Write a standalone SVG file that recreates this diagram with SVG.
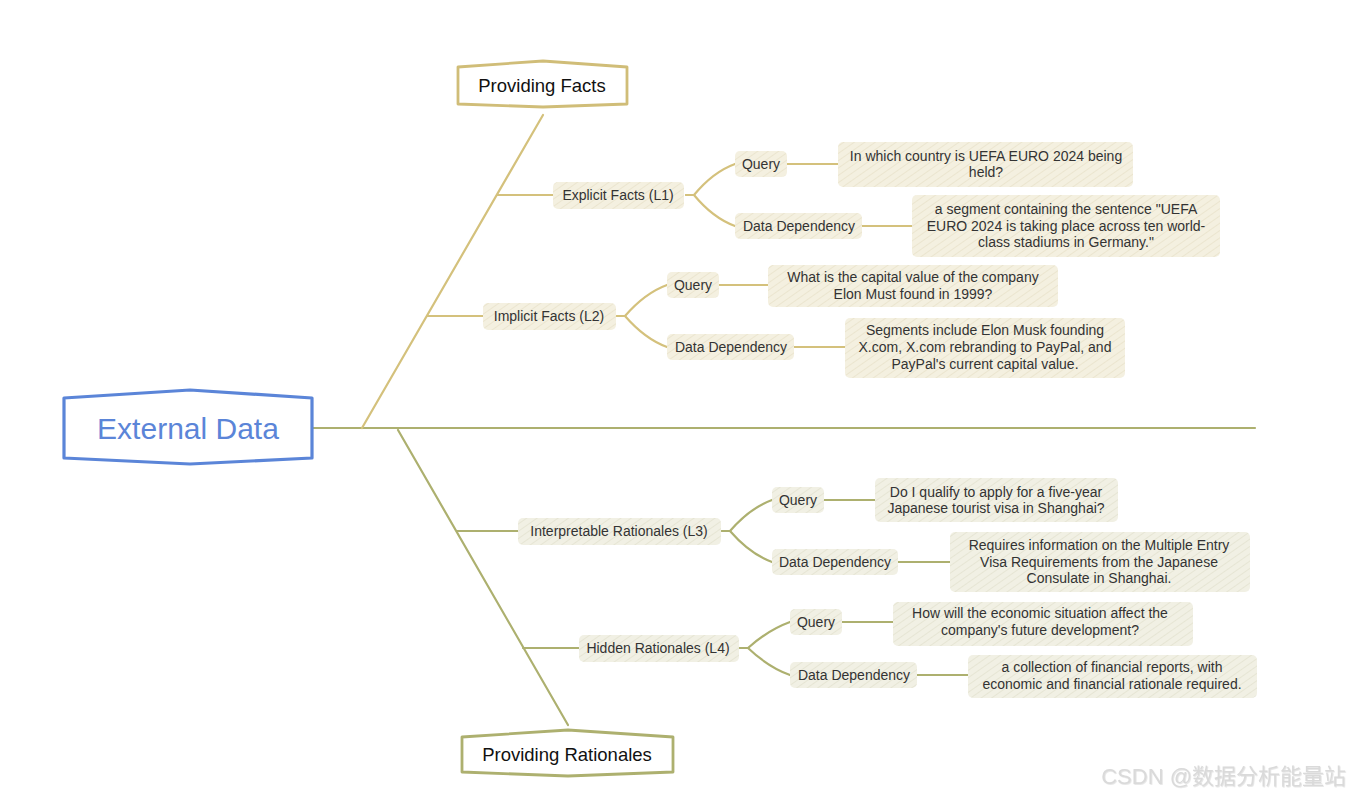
<svg xmlns="http://www.w3.org/2000/svg" width="1351" height="799" viewBox="0 0 1351 799">
<defs>
<pattern id="hatchT" width="6" height="6" patternUnits="userSpaceOnUse" patternTransform="rotate(55)">
<rect width="6" height="6" fill="#f4f0e0"/>
<line x1="0" y1="0" x2="0" y2="6" stroke="#ebe5cf" stroke-width="2"/>
</pattern>
<pattern id="hatchB" width="6" height="6" patternUnits="userSpaceOnUse" patternTransform="rotate(55)">
<rect width="6" height="6" fill="#f1f0e4"/>
<line x1="0" y1="0" x2="0" y2="6" stroke="#e6e5d4" stroke-width="2"/>
</pattern>
<filter id="wm" x="-5%" y="-20%" width="110%" height="140%">
<feDropShadow dx="0.8" dy="0.8" stdDeviation="0.5" flood-color="#aaa" flood-opacity="0.35"/>
</filter>
</defs>
<style>
text{font-family:"Liberation Sans","Noto Sans",Arial,sans-serif;fill:#333;}
.s{font-size:14px;text-anchor:middle;}
.t{font-size:18.5px;text-anchor:middle;fill:#111;}
.nt{fill:url(#hatchT);stroke:none;}
.nb{fill:url(#hatchB);stroke:none;}
.ct{fill:none;stroke:#d4c17c;stroke-width:2.2;stroke-linecap:round;}
.cb{fill:none;stroke:#adb06f;stroke-width:2.2;stroke-linecap:round;}
</style>
<rect width="1351" height="799" fill="#ffffff"/>

<g id="connectors">
<path class="cb" d="M313 428 L1255 428"/>
<path class="ct" d="M362 428 L543 115"/>
<path class="ct" d="M497 195 L553 195"/>
<path class="ct" d="M427 316 L483 316"/>
<path class="ct" d="M686 195 L694 195 Q713 172 735 164"/>
<path class="ct" d="M686 195 L694 195 Q713 218 735 226"/>
<path class="ct" d="M787 164 L838 164"/>
<path class="ct" d="M862 226 L912 226"/>
<path class="ct" d="M617 316 L625 316 Q645 293 667 285"/>
<path class="ct" d="M617 316 L625 316 Q645 339 667 347"/>
<path class="ct" d="M719 285 L768 285"/>
<path class="ct" d="M794 347 L845 347"/>
<path class="cb" d="M398 430 L568 725"/>
<path class="cb" d="M457 531 L518 531"/>
<path class="cb" d="M523 648 L579 648"/>
<path class="cb" d="M722 531 L730 531 Q750 508 772 500"/>
<path class="cb" d="M722 531 L730 531 Q750 554 772 562"/>
<path class="cb" d="M824 500 L875 500"/>
<path class="cb" d="M898 562 L950 562"/>
<path class="cb" d="M740 648 L748 648 Q768 630 790 622"/>
<path class="cb" d="M740 648 L748 648 Q768 667 790 675"/>
<path class="cb" d="M842 622 L893 622"/>
<path class="cb" d="M917 675 L968 675"/>
</g>

<g id="root">
<polygon points="64,398 190,390 312,398 312,458 190,464 64,458" fill="#fff" stroke="#5b85d8" stroke-width="3.2" stroke-linejoin="round"/>
<text x="188" y="439" style="font-size:30px;text-anchor:middle;fill:#5b85d8;">External Data</text>
</g>

<g id="providing-facts">
<polygon points="458,67 543,61 627,67 627,104 543,107 458,104" fill="#fff" stroke="#d0bd78" stroke-width="2.8" stroke-linejoin="round"/>
<text class="t" x="542" y="92">Providing Facts</text>
</g>

<g id="providing-rationales">
<polygon points="462,737 568,730 673,737 673,772 568,776 462,772" fill="#fff" stroke="#adb06f" stroke-width="2.8" stroke-linejoin="round"/>
<text class="t" x="567" y="761">Providing Rationales</text>
</g>

<g id="explicit-facts">
<rect class="nt" x="553" y="182" width="131" height="27" rx="5"/>
<text class="s" x="618" y="200">Explicit Facts (L1)</text>
</g>
<g id="ef-query">
<rect class="nt" x="735" y="151" width="52" height="26" rx="5"/>
<text class="s" x="761" y="169">Query</text>
</g>
<g id="ef-query-text">
<rect class="nt" x="838" y="142" width="295" height="45" rx="5"/>
<text class="s" x="986" y="161">In which country is UEFA EURO 2024 being</text>
<text class="s" x="986" y="177">held?</text>
</g>
<g id="ef-dd">
<rect class="nt" x="735" y="213" width="127" height="26" rx="5"/>
<text class="s" x="799" y="231">Data Dependency</text>
</g>
<g id="ef-dd-text">
<rect class="nt" x="912" y="195" width="308" height="62" rx="5"/>
<text class="s" x="1066" y="214">a segment containing the sentence "UEFA</text>
<text class="s" x="1066" y="231">EURO 2024 is taking place across ten world-</text>
<text class="s" x="1066" y="247">class stadiums in Germany."</text>
</g>

<g id="implicit-facts">
<rect class="nt" x="483" y="303" width="133" height="27" rx="5"/>
<text class="s" x="549" y="321">Implicit Facts (L2)</text>
</g>
<g id="if-query">
<rect class="nt" x="667" y="272" width="52" height="26" rx="5"/>
<text class="s" x="693" y="290">Query</text>
</g>
<g id="if-query-text">
<rect class="nt" x="768" y="265" width="290" height="42" rx="5"/>
<text class="s" x="913" y="282">What is the capital value of the company</text>
<text class="s" x="913" y="299">Elon Must found in 1999?</text>
</g>
<g id="if-dd">
<rect class="nt" x="667" y="334" width="127" height="26" rx="5"/>
<text class="s" x="731" y="352">Data Dependency</text>
</g>
<g id="if-dd-text">
<rect class="nt" x="845" y="318" width="280" height="60" rx="5"/>
<text class="s" x="985" y="335">Segments include Elon Musk founding</text>
<text class="s" x="985" y="352">X.com, X.com rebranding to PayPal, and</text>
<text class="s" x="985" y="369">PayPal's current capital value.</text>
</g>

<g id="interpretable-rationales">
<rect class="nb" x="518" y="518" width="203" height="27" rx="5"/>
<text class="s" x="619" y="536">Interpretable Rationales (L3)</text>
</g>
<g id="ir-query">
<rect class="nb" x="772" y="487" width="52" height="26" rx="5"/>
<text class="s" x="798" y="505">Query</text>
</g>
<g id="ir-query-text">
<rect class="nb" x="875" y="478" width="243" height="44" rx="5"/>
<text class="s" x="996" y="497">Do I qualify to apply for a five-year</text>
<text class="s" x="996" y="513">Japanese tourist visa in Shanghai?</text>
</g>
<g id="ir-dd">
<rect class="nb" x="772" y="549" width="126" height="26" rx="5"/>
<text class="s" x="835" y="567">Data Dependency</text>
</g>
<g id="ir-dd-text">
<rect class="nb" x="950" y="532" width="300" height="60" rx="5"/>
<text class="s" x="1099" y="550">Requires information on the Multiple Entry</text>
<text class="s" x="1099" y="567">Visa Requirements from the Japanese</text>
<text class="s" x="1099" y="583">Consulate in Shanghai.</text>
</g>

<g id="hidden-rationales">
<rect class="nb" x="579" y="635" width="160" height="27" rx="5"/>
<text class="s" x="658" y="653">Hidden Rationales (L4)</text>
</g>
<g id="hr-query">
<rect class="nb" x="790" y="609" width="52" height="26" rx="5"/>
<text class="s" x="816" y="627">Query</text>
</g>
<g id="hr-query-text">
<rect class="nb" x="893" y="602" width="300" height="44" rx="5"/>
<text class="s" x="1040" y="618">How will the economic situation affect the</text>
<text class="s" x="1040" y="635">company's future development?</text>
</g>
<g id="hr-dd">
<rect class="nb" x="790" y="662" width="127" height="26" rx="5"/>
<text class="s" x="854" y="680">Data Dependency</text>
</g>
<g id="hr-dd-text">
<rect class="nb" x="968" y="655" width="289" height="43" rx="5"/>
<text class="s" x="1112" y="672">a collection of financial reports, with</text>
<text class="s" x="1112" y="689">economic and financial rationale required.</text>
</g>

<text x="1346" y="784" filter="url(#wm)" style="font-family:'Liberation Sans','Noto Sans CJK SC',sans-serif;font-size:22px;text-anchor:end;fill:#dadada;">CSDN @数据分析能量站</text>
</svg>
